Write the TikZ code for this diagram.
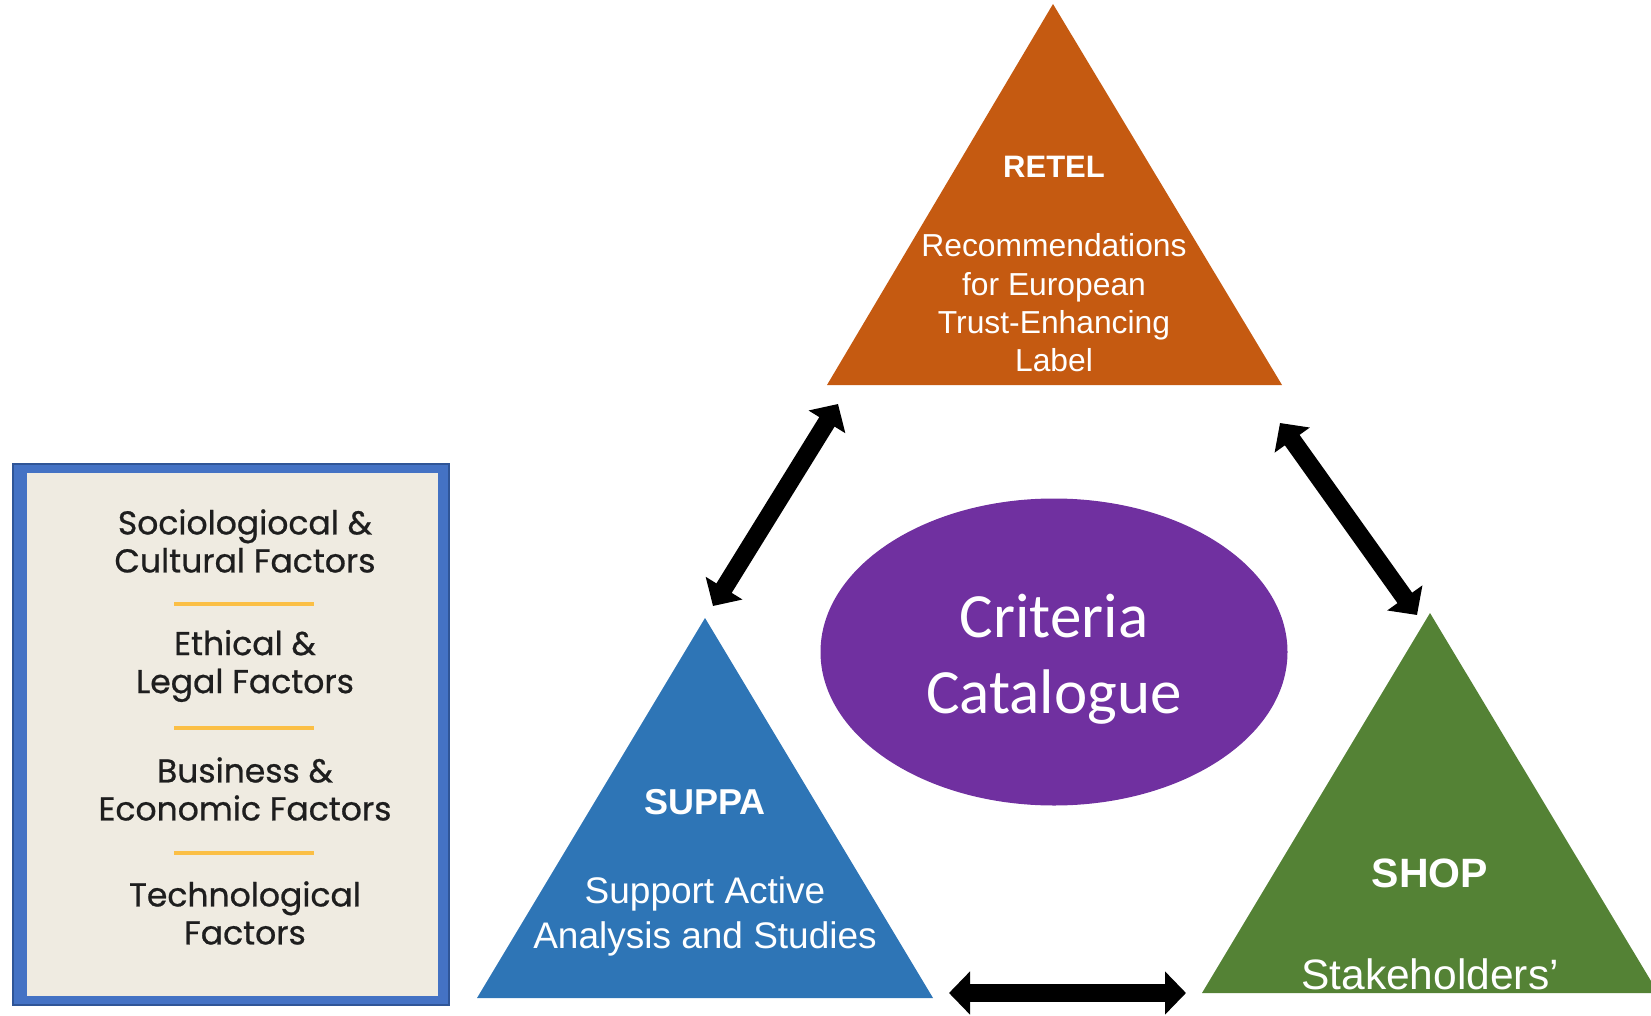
\documentclass[tikz,border=0pt]{standalone}
\usepackage{fontspec}
\setmainfont{Liberation Sans}
\newfontfamily\calfont{Carlito}
\newfontfamily\boxfont[FakeBold=0.7]{Poppins}
\usetikzlibrary{arrows.meta,shapes.geometric}
\definecolor{retelc}{HTML}{C55A11}
\definecolor{suppac}{HTML}{2E75B6}
\definecolor{shopc}{HTML}{548235}
\definecolor{critc}{HTML}{7030A0}
\definecolor{boxblue}{HTML}{4472C4}
\definecolor{boxedge}{HTML}{2F5597}
\definecolor{beigec}{HTML}{EFEBE1}
\definecolor{sepc}{HTML}{FBBF45}
\definecolor{txtc}{HTML}{1E1E1E}
\begin{document}
\begin{tikzpicture}[x=1pt,y=-1pt,
  wtext/.style={text=white, align=center, inner sep=0pt},
  fatarrow/.style={line width=18pt, {Triangle[width=42pt,length=21pt]}-{Triangle[width=42pt,length=21pt]}},
  factor/.style={font={\boxfont\fontsize{33}{38}\selectfont}, align=center, inner sep=0pt, text=txtc},
  sepline/.style={draw=sepc, line width=3.5pt}
]
\useasboundingbox (0,0) rectangle (1651,1016);

% left box
\fill[boxblue, draw=boxedge, line width=1.5pt] (13,464) rectangle (449,1005);
\fill[beigec] (27,473) rectangle (438,996);
\node[factor] (f1) at (245,541) {Sociologiocal \&\\Cultural Factors};
\node[factor] (f2) at (245,666) {Ethical \&\\Legal Factors};
\node[factor] (f3) at (245,789) {Business \&\\Economic Factors};
\node[factor] (f4) at (245,913) {Technological\\Factors};
\coordinate (s1a) at (174,604); \coordinate (s1b) at (314,604);
\coordinate (s2a) at (174,728); \coordinate (s2b) at (314,728);
\coordinate (s3a) at (174,853); \coordinate (s3b) at (314,853);
\draw[sepline] (s1a) -- (s1b);
\draw[sepline] (s2a) -- (s2b);
\draw[sepline] (s3a) -- (s3b);

% triangles
\fill[retelc] (1053,4) -- (1282,385) -- (827,385) -- cycle;
\fill[suppac] (705,618) -- (933,998) -- (477,998) -- cycle;
\fill[shopc] (1430,613) -- (1651,981) -- (1651,993) -- (1202,993) -- cycle;

\node[wtext, font=\bfseries\fontsize{31}{37}\selectfont] (retel) at (1054,167) {RETEL};
\node[wtext, font=\fontsize{31.8}{38.3}\selectfont] (retelb) at (1054,303) {Recommendations\\for European\\Trust-Enhancing\\Label};
\node[wtext, font=\bfseries\fontsize{36}{44}\selectfont] (suppa) at (705,802) {SUPPA};
\node[wtext, font=\fontsize{37}{45}\selectfont] (suppab) at (705,916) {Support Active\\Analysis and Studies};
\node[wtext, font=\bfseries\fontsize{41}{48}\selectfont] (shop) at (1430,873) {SHOP};
\node[wtext, font=\fontsize{42.5}{48}\selectfont, anchor=base] (shopb) at (1430,989) {Stakeholders’};

% centre ellipse
\node[ellipse, fill=critc, minimum width=467pt, minimum height=307pt, inner sep=0pt] (crit) at (1054,652) {};
\node[wtext, font={\calfont\fontsize{63}{76}\selectfont}] (crittext) at (1054,659) {Criteria\\Catalogue};

% arrows
\coordinate (rl) at (838,404);
\coordinate (sl) at (713,606);
\coordinate (rr) at (1280,423);
\coordinate (hr) at (1417,615);
\coordinate (sb) at (949,993);
\coordinate (hb) at (1186,993);
\draw[fatarrow] (rl) -- (sl);
\draw[fatarrow] (rr) -- (hr);
\draw[fatarrow] (sb) -- (hb);
\end{tikzpicture}
\end{document}
